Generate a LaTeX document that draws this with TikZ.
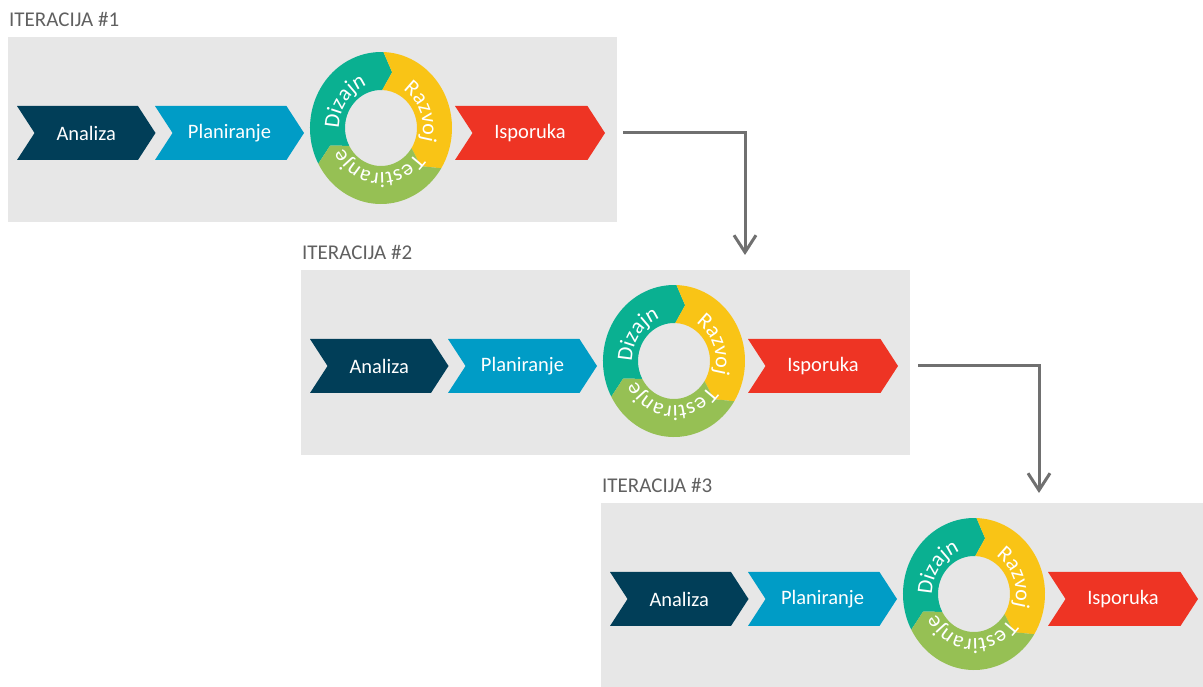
\documentclass[tikz,border=0pt]{standalone}
\usepackage{fontspec}
\setmainfont{Carlito}
\usetikzlibrary{shapes.symbols, arrows.meta, positioning, decorations.text}

\definecolor{navy}{RGB}{1,62,88}
\definecolor{skyblue}{RGB}{0,156,198}
\definecolor{deliver}{RGB}{238,52,36}
\definecolor{dizajnc}{RGB}{10,176,145}
\definecolor{razvojc}{RGB}{249,196,22}
\definecolor{testc}{RGB}{150,192,84}
\definecolor{panelgray}{RGB}{231,231,231}
\definecolor{linegray}{RGB}{112,112,112}
\definecolor{titlegray}{RGB}{96,96,96}

\newcommand{\chevfont}{\fontsize{20.5}{24}\selectfont}
\newcommand{\ringfont}{\fontsize{22}{26}\selectfont}

\tikzset{
  panel/.style={fill=panelgray, minimum width=609pt, minimum height=185pt, inner sep=0pt},
  chev/.style={signal, signal from=west, signal to=east, signal pointer angle=114,
    minimum height=54pt, inner sep=0pt, text=white, font=\chevfont},
  title/.style={text=titlegray, inner sep=0pt, font=\fontsize{21}{25}\selectfont},
  flow/.style={draw=linegray, line width=3pt, ->},
  ringtext/.style={decorate, decoration={text along path, text align=center,
    text color=white, text={|\ringfont|#1}}}
}

\begin{document}
\begin{tikzpicture}[x=1pt, y=1pt, >={Straight Barb[length=17pt, width=22pt]}]
  \useasboundingbox (0,0) rectangle (1203,686);
  \clip (0,0) rectangle (1203,686);

  \foreach \i/\x/\y in {1/8/649, 2/301/416, 3/601/183} {
    \node[panel, anchor=north west] (box\i) at (\x,\y) {};
    \node[title, anchor=base west] (t\i) at ([shift={(1,10)}]box\i.north west) {ITERACIJA \#\i};

    \node[chev, fill=navy, minimum width=138.5pt] (ana\i) at ([shift={(78.25,-96)}]box\i.north west) {Analiza};
    \node[chev, fill=skyblue, minimum width=149pt] (plan\i) at ([shift={(221.5,-96)}]box\i.north west) {Planiranje};
    \node[chev, fill=deliver, minimum width=150pt] (isp\i) at ([shift={(522,-96)}]box\i.north west) {Isporuka};

    % ciklus
    \coordinate (ring\i) at ([shift={(373,-91)}]box\i.north west);
    \begin{scope}[shift={(ring\i)}]
      \foreach \t/\c in {208/dizajnc, 88/razvojc, -32/testc}
        \fill[\c] ({\t}:71 and 76) arc[start angle=\t, end angle=\t-120, x radius=71, y radius=76]
          -- ({\t-130}:53.5 and 57) -- ({\t-120}:36 and 38)
          arc[start angle=\t-120, end angle=\t, x radius=36, y radius=38]
          -- ({\t-10}:53.5 and 57) -- cycle;
      \path[ringtext=Dizajn] (230:42 and 45) arc[start angle=230, end angle=58, x radius=42, y radius=45];
      \path[ringtext=Razvoj] (108:42 and 45) arc[start angle=108, end angle=-64, x radius=42, y radius=45];
      \path[ringtext=Testiranje] (356:42 and 45) arc[start angle=356, end angle=176, x radius=42, y radius=45];
    \end{scope}
  }

  \coordinate (in2) at ([shift={(444,15)}]box2.north west);
  \coordinate (in3) at ([shift={(438,10)}]box3.north west);
  \draw[flow] ([xshift=18pt]isp1.east) -| (in2);
  \draw[flow] ([xshift=20pt]isp2.east) -| (in3);
\end{tikzpicture}
\end{document}
